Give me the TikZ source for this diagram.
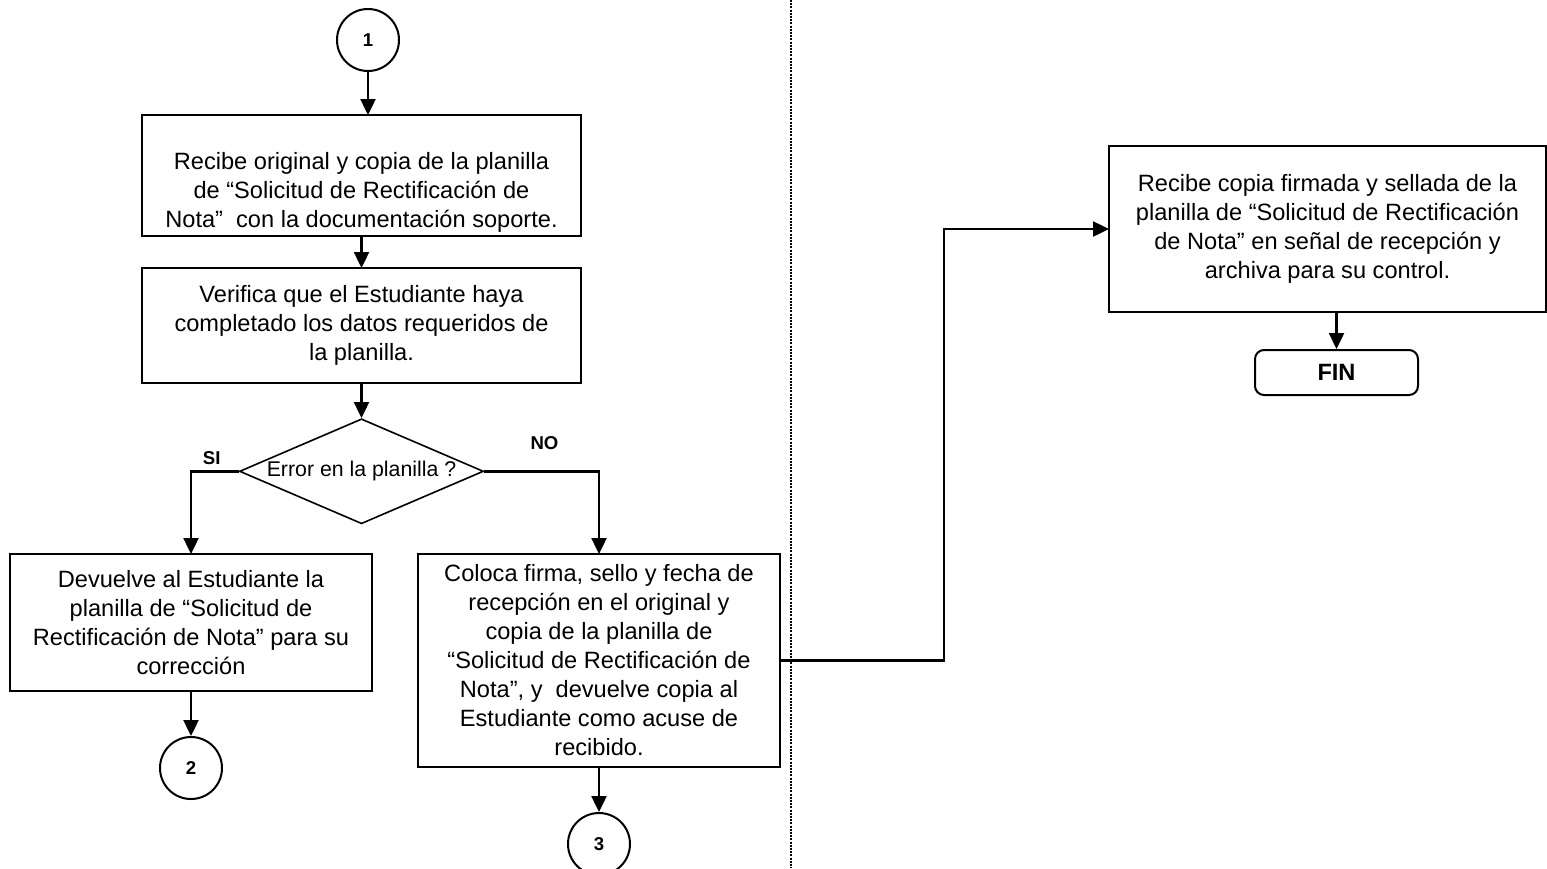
\documentclass[tikz,border=0pt]{standalone}
\usepackage{fontspec}
\setmainfont{Liberation Sans}
\usetikzlibrary{positioning,shapes.geometric,arrows.meta}

\tikzset{
  proc/.style={draw, line width=2pt, align=center, inner sep=0pt, outer sep=0pt,
    font=\fontsize{23.6}{29}\selectfont},
  conn/.style={draw, circle, line width=2pt, minimum size=62pt, inner sep=0pt,
    font=\fontsize{18.6}{22}\selectfont\bfseries},
  decision/.style={draw, diamond, aspect=2.32, line width=1.6pt, inner sep=0pt,
    minimum width=244pt, minimum height=105pt, font=\fontsize{21.3}{25}\selectfont},
  fin/.style={draw, rounded corners=9pt, line width=2pt, minimum width=163pt,
    minimum height=45pt, font=\fontsize{23.6}{29}\selectfont\bfseries},
  etiq/.style={inner sep=0pt, font=\fontsize{18.6}{22}\selectfont\bfseries},
  flecha/.style={line width=2.4pt, -{Triangle[length=16pt,width=15pt]}},
}

\begin{document}
\begin{tikzpicture}[x=1pt,y=-1pt]
\useasboundingbox (0,0) rectangle (1547,868);
\draw[line width=1.4pt, dash pattern=on 2pt off 1.2pt] (791,0) -- (791,868);
%----------------------------------
\node[conn] (c1) at (368,40) {1};
\node[proc, minimum width=439pt, minimum height=121pt] (recibe) at (361.5,175.5)
  {\rule{0pt}{50pt}Recibe original y copia de la planilla\\de “Solicitud de Rectificación de\\Nota”~ con la documentación soporte.};
\node[proc, below=32pt of recibe, minimum width=439pt, minimum height=115pt] (verifica)
  {Verifica que el Estudiante haya\\completado los datos requeridos de\\la planilla.};
\node[decision, below=35pt of verifica] (error) {Error en la planilla ?};
\node[etiq, above left=6pt and 18pt of error.west] (si) {SI};
\node[etiq, above right=21pt and 46pt of error.east] (no) {NO};
%----------------------------------
\node[proc, minimum width=362pt, minimum height=137pt] (devuelve) at (191,622.5)
  {Devuelve al Estudiante la\\planilla de “Solicitud de\\Rectificación de Nota” para su\\corrección};
\node[conn, below=45pt of devuelve] (c2) {2};
\node[proc, minimum width=362pt, minimum height=213pt] (coloca) at (599,660.5)
  {Coloca firma, sello y fecha de\\recepción en el original y\\copia de la planilla de\\“Solicitud de Rectificación de\\Nota”, y~ devuelve copia al\\Estudiante como acuse de\\recibido.};
\node[conn, below=45pt of coloca] (c3) {3};
%----------------------------------
\node[proc, minimum width=437pt, minimum height=166pt] (archiva) at (1327.5,229)
  {Recibe copia firmada y sellada de la\\planilla de “Solicitud de Rectificación\\de Nota” en señal de recepción y\\archiva para su control.};
\node[fin, below=37pt of archiva, xshift=9pt] (fin) {FIN};
\coordinate (codo) at (944,660.5);
%----------------------------------
\draw[flecha] (c1) -- (c1 |- recibe.north);
\draw[flecha] (recibe) -- (verifica);
\draw[flecha] (verifica) -- (error);
\draw[flecha] (error.west) -| (devuelve.north);
\draw[flecha] (error.east) -| (coloca.north);
\draw[flecha] (devuelve) -- (c2);
\draw[flecha] (coloca) -- (c3);
\draw[flecha] (coloca.east) -- (codo) |- (archiva.west);
\draw[flecha] (fin.north |- archiva.south) -- (fin.north);
\end{tikzpicture}
\end{document}
